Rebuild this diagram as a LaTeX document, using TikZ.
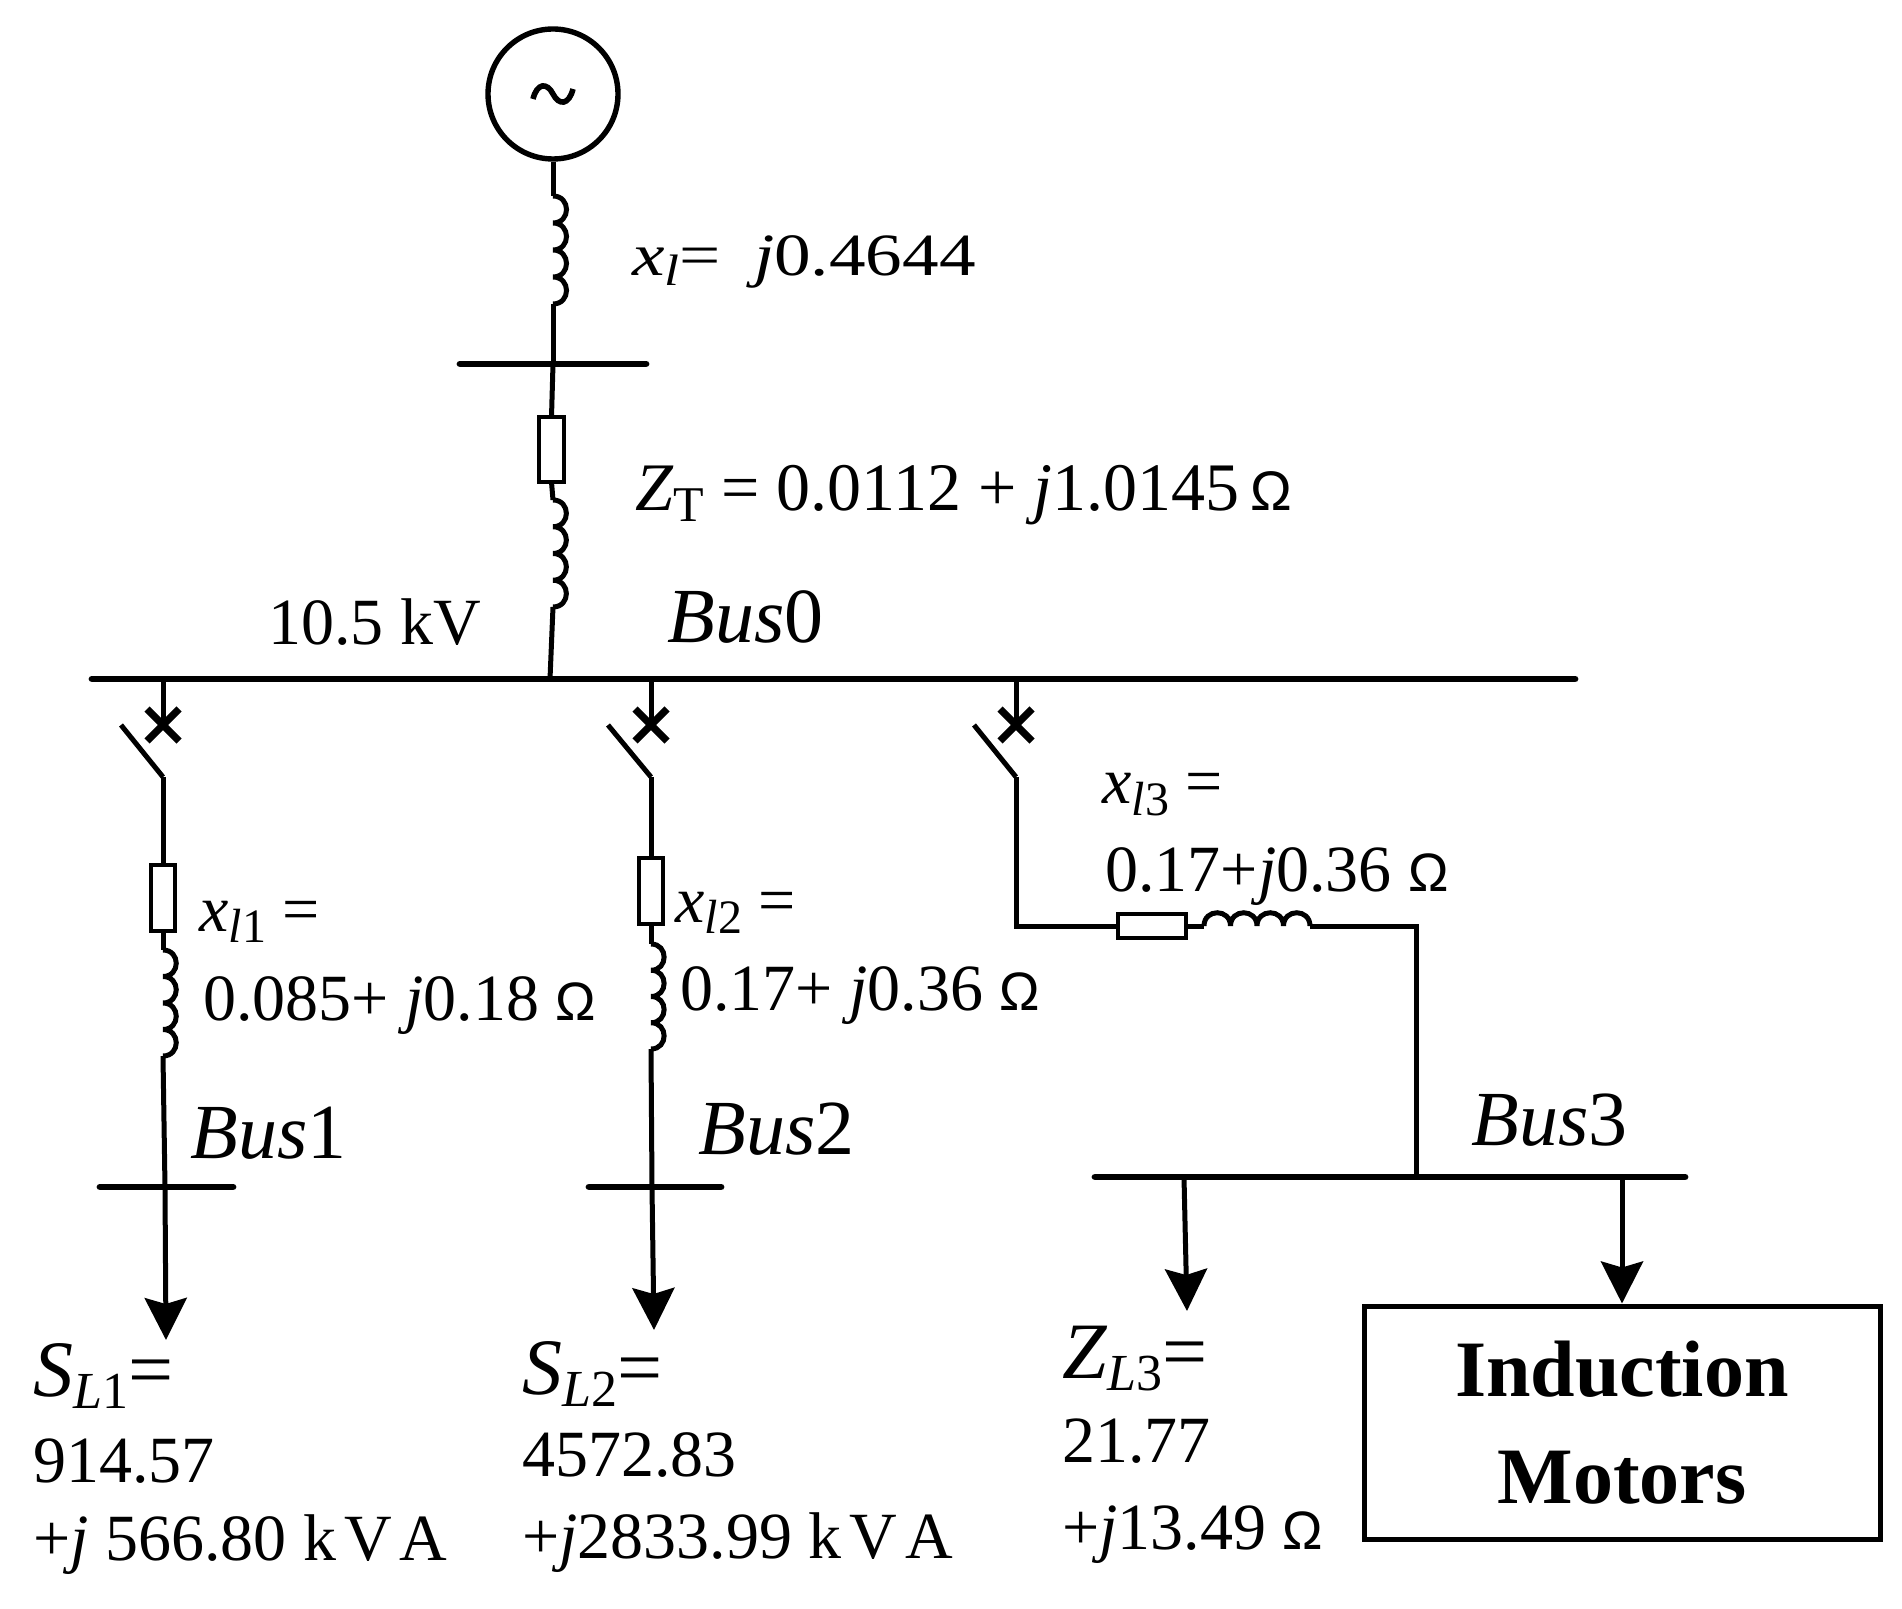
\documentclass[tikz,border=0pt]{standalone}
\usepackage{fontspec}
\setmainfont{Liberation Serif}
\newfontfamily\omfont{Liberation Sans}[Scale=0.82]
\usetikzlibrary{arrows.meta}
\newcommand\Om{{\omfont Ω}}
\newcommand\fs[1]{\fontsize{#1}{#1}\selectfont}
\newcommand\lowsub[3]{\raisebox{-#1pt}{\fontsize{#2}{#2}\selectfont #3}}
\newcommand\kva{k\hspace{0.12em}V\hspace{0.12em}A}
% vertical coil: x, ytop, bump height (bumps to the right)
\newcommand\vcoil[3]{\draw[wire] (#1,#2) \foreach \k in {0,...,3}{ .. controls ({#1+0.667*#3},{#2+#3*\k}) and ({#1+0.667*#3},{#2+#3*(\k+1)}) .. ({#1},{#2+#3*(\k+1)}) };}
% horizontal coil: xleft, y, bump width (bumps upward)
\newcommand\hcoil[3]{\draw[wire] (#1,#2) \foreach \k in {0,...,3}{ .. controls ({#1+#3*\k},{#2-0.667*#3}) and ({#1+#3*(\k+1)},{#2-0.667*#3}) .. ({#1+#3*(\k+1)},{#2}) };}
\begin{document}
\begin{tikzpicture}[x=0.5pt,y=-0.5pt,
  wire/.style={line width=2.5pt},
  busbar/.style={line width=3.4pt,line cap=round},
  resbox/.style={draw,line width=2.2pt,inner sep=0pt,outer sep=0pt},
  xmk/.style={line width=3.6pt},
  load/.style={wire,-{Stealth[length=21pt,width=21pt,inset=3pt]}},
  txt/.style={anchor=base west,inner sep=0pt,font=\fs{33}},
  bustxt/.style={anchor=base west,inner sep=0pt,font=\fs{39}}]
\useasboundingbox (0,0) rectangle (1902,1609);

% ---------- generator ----------
\node[circle,draw,line width=2.7pt,minimum size=65pt,inner sep=0pt] (gen) at (553,94) {};
\draw[line width=2.8pt] (533,99) .. controls (537,83) and (547,82) .. (553,94) .. controls (559,106) and (569,105) .. (573,89);
\coordinate (g1) at (553,196);
\coordinate (g2) at (553,304);
\draw[wire] (gen.south) -- (g1);
\vcoil{553}{196}{27}
\coordinate (sb) at (553,364);
\coordinate (sbl) at (460,364);
\coordinate (sbr) at (646,364);
\draw[wire] (g2) -- (sb);
\draw[busbar] (sbl) -- (sbr);
\node[txt,anchor=base west] (lxl) at (632,276) {\scalebox{1.22}[1]{\fs{30}\textit{x}\lowsub{5}{22}{\textit{l}}=\hspace{0.45em}\textit{j}0.4644}};

% ---------- transformer ----------
\node[resbox,minimum width=12.5pt,minimum height=32.5pt] (rt) at (551.5,449.5) {};
\coordinate (t1) at (553,500);
\coordinate (t2) at (553,607);
\coordinate (b0t) at (550,679);
\draw[wire] (sb) -- (rt.north);
\draw[wire] (rt.south) -- (t1);
\vcoil{553}{500}{26.75}
\draw[wire] (t2) -- (b0t);
\node[txt,font=\fs{34}] (lzt) at (635,511) {\textit{Z}\lowsub{5.5}{25}{T} = 0.0112 + \textit{j}1.0145\,\Om};

% ---------- Bus0 ----------
\coordinate (b0l) at (92,679);
\coordinate (b0r) at (1575,679);
\draw[busbar] (b0l) -- (b0r);
\node[txt] (lkv) at (268,645) {10.5 kV};
\node[bustxt] (lb0) at (667,643) {\textit{Bus}0};

% ---------- branch 1 ----------
\coordinate (a1) at (163,679);
\coordinate (x1) at (163,725);
\coordinate (s1) at (121,725);
\coordinate (h1) at (163,777);
\draw[wire] (a1) -- (x1);
\draw[xmk] (x1) ++(-16,-16) -- ++(32,32) (x1) ++(-16,16) -- ++(32,-32);
\draw[wire] (s1) -- (h1);
\node[resbox,minimum width=12pt,minimum height=33pt] (r1) at (163,898) {};
\coordinate (c1t) at (163,950);
\coordinate (c1b) at (163,1056);
\draw[wire] (h1) -- (r1.north);
\draw[wire] (r1.south) -- (c1t);
\vcoil{163}{950}{26.5}
\coordinate (bus1) at (165,1187);
\coordinate (bus1l) at (100,1187);
\coordinate (bus1r) at (233,1187);
\coordinate (ld1) at (166,1340);
\draw[wire] (c1b) -- (bus1);
\draw[busbar] (bus1l) -- (bus1r);
\draw[load] (bus1) -- (ld1);
\node[txt] (lx1) at (199,931) {\textit{x}\lowsub{5.7}{24}{\textit{l}1} =};
\node[txt] (lv1) at (203,1020) {0.085+ \textit{j}0.18 \Om};
\node[bustxt] (lb1) at (190,1158) {\textit{Bus}1};
\node[txt,font=\fs{40}] (ls1) at (33,1396) {\textit{S}\lowsub{6}{26}{\textit{L}1}=};
\node[txt] (ls1a) at (33,1482) {914.57};
\node[txt] (ls1b) at (33,1560) {+\textit{j} 566.80 \kva};

% ---------- branch 2 ----------
\coordinate (a2) at (651,679);
\coordinate (x2) at (651,725);
\coordinate (s2) at (608,725);
\coordinate (h2) at (651,777);
\draw[wire] (a2) -- (x2);
\draw[xmk] (x2) ++(-16,-16) -- ++(32,32) (x2) ++(-16,16) -- ++(32,-32);
\draw[wire] (s2) -- (h2);
\node[resbox,minimum width=12pt,minimum height=33pt] (r2) at (651,891) {};
\coordinate (c2t) at (651,944);
\coordinate (c2b) at (651,1049);
\draw[wire] (h2) -- (r2.north);
\draw[wire] (r2.south) -- (c2t);
\vcoil{651}{944}{26.25}
\coordinate (bus2) at (652,1187);
\coordinate (bus2l) at (589,1187);
\coordinate (bus2r) at (721,1187);
\coordinate (ld2) at (654,1330);
\draw[wire] (c2b) -- (bus2);
\draw[busbar] (bus2l) -- (bus2r);
\draw[load] (bus2) -- (ld2);
\node[txt] (lx2) at (675,922) {\textit{x}\lowsub{5.7}{24}{\textit{l}2} =};
\node[txt] (lv2) at (680,1010) {0.17+ \textit{j}0.36 \Om};
\node[bustxt] (lb2) at (698,1154) {\textit{Bus}2};
\node[txt,font=\fs{40}] (ls2) at (522,1394) {\textit{S}\lowsub{6}{26}{\textit{L}2}=};
\node[txt] (ls2a) at (522,1476) {4572.83};
\node[txt] (ls2b) at (522,1558) {+\textit{j}2833.99 \kva};

% ---------- branch 3 ----------
\coordinate (a3) at (1016,679);
\coordinate (x3) at (1016,725);
\coordinate (s3) at (974,725);
\coordinate (h3) at (1016,777);
\coordinate (k3) at (1016,926);
\draw[wire] (a3) -- (x3);
\draw[xmk] (x3) ++(-16,-16) -- ++(32,32) (x3) ++(-16,16) -- ++(32,-32);
\draw[wire] (s3) -- (h3);
\node[resbox,minimum width=34pt,minimum height=12pt] (r3) at (1152,926) {};
\coordinate (c3l) at (1204,926);
\coordinate (c3r) at (1310,926);
\coordinate (k4) at (1416,926);
\coordinate (bus3) at (1416,1177);
\draw[wire] (h3) -- (k3) -- (r3.west);
\draw[wire] (r3.east) -- (c3l);
\hcoil{1204}{926}{26.5}
\draw[wire] (c3r) -- (k4) -- (bus3);
\coordinate (bus3l) at (1095,1177);
\coordinate (bus3r) at (1685,1177);
\draw[busbar] (bus3l) -- (bus3r);
\coordinate (b3a) at (1184,1177);
\coordinate (ld3) at (1187,1311);
\coordinate (b3b) at (1622,1177);
\draw[load] (b3a) -- (ld3);
\node[draw,line width=2.5pt,minimum width=258pt,minimum height=116.5pt,inner sep=0pt] (im) at (1622,1422.5) {};
\draw[load] (b3b) -- (im.north);
\node[anchor=base,inner sep=0pt,font=\fs{40}\bfseries] (lim1) at (1622,1396) {Induction};
\node[anchor=base,inner sep=0pt,font=\fs{40}\bfseries] (lim2) at (1622,1503) {Motors};
\node[txt] (lx3) at (1102,804) {\textit{x}\lowsub{5.7}{24}{\textit{l}3} =};
\node[txt] (lv3) at (1105,891) {0.17+\textit{j}0.36 \Om};
\node[bustxt] (lb3) at (1471,1145) {\textit{Bus}3};
\node[txt,font=\fs{40}] (lz3) at (1062,1378) {\textit{Z}\lowsub{6}{26}{\textit{L}3}=};
\node[txt] (lz3a) at (1062,1462) {21.77};
\node[txt] (lz3b) at (1062,1549) {+\textit{j}13.49 \Om};
\end{tikzpicture}
\end{document}
